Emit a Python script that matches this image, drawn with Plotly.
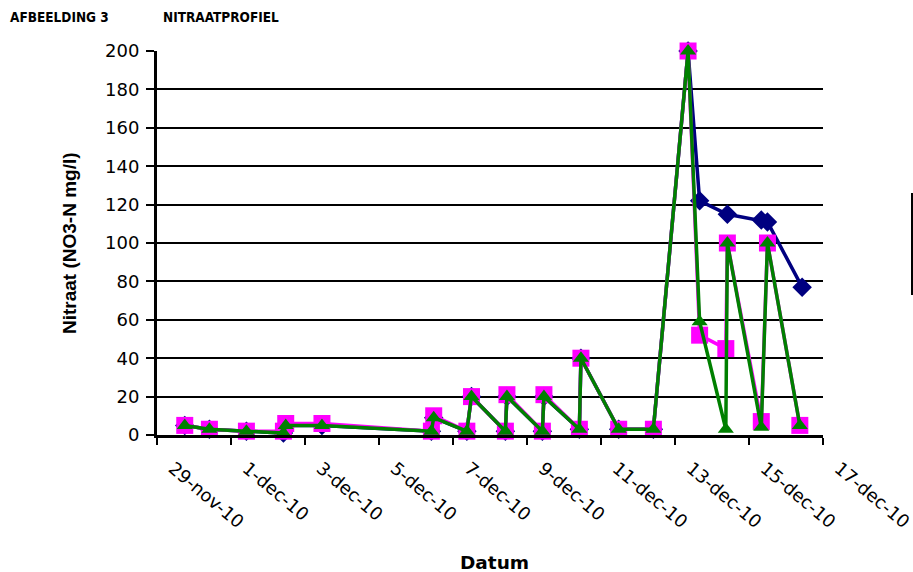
import plotly.graph_objects as go
import pandas as pd

# Sampling moments shared by the magenta and green series
sample_times = [
    "2010-11-29 18:00", "2010-11-30 10:00", "2010-12-01 10:00",
    "2010-12-02 10:00", "2010-12-02 11:30", "2010-12-03 11:00",
    "2010-12-06 10:00", "2010-12-06 11:30", "2010-12-07 09:00",
    "2010-12-07 12:00", "2010-12-08 10:00", "2010-12-08 11:00",
    "2010-12-09 10:00", "2010-12-09 11:00", "2010-12-10 10:00",
    "2010-12-10 11:00", "2010-12-11 11:30", "2010-12-12 10:00",
    "2010-12-13 08:30", "2010-12-13 16:00", "2010-12-14 09:00",
    "2010-12-14 10:00", "2010-12-15 08:00", "2010-12-15 12:00",
    "2010-12-16 09:00",
]
magenta_values = [5, 3, 2, 2, 6, 6, 2, 10, 2, 20, 2, 21, 2, 21, 3, 40, 3, 3,
                  200, 52, 45, 100, 7, 100, 5]
green_values = [5, 3, 2, 1, 5, 5, 2, 9, 2, 20, 2, 20, 2, 20, 3, 40, 3, 3,
                200, 59, 3, 100, 4, 100, 5]

# Navy series: same early samples, its own tail after 13-dec
navy_times = sample_times[:19] + [
    "2010-12-13 16:00", "2010-12-14 10:00", "2010-12-15 08:00",
    "2010-12-15 12:00", "2010-12-16 10:30",
]
navy_values = [5, 3, 2, 1, 5, 5, 2, 9, 2, 20, 2, 20, 2, 20, 3, 40, 3, 3,
               200, 122, 115, 112, 111, 77]

# Axis ticks every two days, labels centred in the day slot
tick_dates = pd.date_range("2010-11-29", "2010-12-17", freq="2D")
tick_labels = ["29-nov-10", "1-dec-10", "3-dec-10", "5-dec-10", "7-dec-10",
               "9-dec-10", "11-dec-10", "13-dec-10", "15-dec-10", "17-dec-10"]
y_ticks = list(range(0, 201, 20))

NAVY = "#000080"
MAGENTA = "#FF00FF"
GREEN = "#008000"

fig = go.Figure()
fig.add_trace(go.Scatter(
    x=pd.to_datetime(navy_times), y=navy_values, mode="lines+markers",
    line=dict(color=NAVY, width=3.5),
    marker=dict(symbol="diamond", size=15, color=NAVY),
    showlegend=False, cliponaxis=False,
))
fig.add_trace(go.Scatter(
    x=pd.to_datetime(sample_times), y=magenta_values, mode="lines+markers",
    line=dict(color=MAGENTA, width=3.5),
    marker=dict(symbol="square", size=17, color=MAGENTA),
    showlegend=False, cliponaxis=False,
))
fig.add_trace(go.Scatter(
    x=pd.to_datetime(sample_times), y=green_values, mode="lines+markers",
    line=dict(color=GREEN, width=3.5),
    marker=dict(symbol="triangle-up", size=14, color=GREEN),
    showlegend=False, cliponaxis=False,
))

PLOT_L, PLOT_R, PLOT_T, PLOT_B = 157, 823, 51, 435
W, H = 913, 572


def px_to_paper(px, py):
    return ((px - PLOT_L) / (PLOT_R - PLOT_L),
            (PLOT_B - py) / (PLOT_B - PLOT_T))


tick_font = dict(family="DejaVu Sans", size=18, color="black")

fig.update_layout(
    width=W, height=H,
    margin=dict(l=PLOT_L, r=W - PLOT_R, t=PLOT_T, b=H - PLOT_B, pad=0,
                autoexpand=False),
    paper_bgcolor="white", plot_bgcolor="white",
    xaxis=dict(
        type="date", automargin=False,
        range=[pd.Timestamp("2010-11-29"), pd.Timestamp("2010-12-17 00:02")],
        tickmode="array", tickvals=list(tick_dates), ticktext=tick_labels,
        tickangle=40, ticklabelshift=16, ticklabelstandoff=6,
        ticklabeloverflow="allow",
        ticks="outside", ticklen=7, tickwidth=2, tickcolor="black",
        showline=True, linecolor="black", linewidth=3,
        showgrid=False, zeroline=False, tickfont=tick_font,
    ),
    yaxis=dict(
        range=[0, 200], tickmode="array", tickvals=y_ticks, automargin=False,
        ticks="outside", ticklen=8, tickwidth=2, tickcolor="black",
        showline=True, linecolor="black", linewidth=3,
        showgrid=True, gridcolor="black", gridwidth=1.5,
        zeroline=False, tickfont=tick_font, ticklabelstandoff=3,
    ),
)

header_font = dict(family="Liberation Sans Narrow, Arial Narrow, DejaVu Sans Condensed",
                   size=13.5, color="black")

# Header above the chart
hx, hy = px_to_paper(8, 17)
fig.add_annotation(text="<b>AFBEELDING 3</b>", x=hx, y=hy, xref="paper", yref="paper",
                   xanchor="left", yanchor="middle", showarrow=False, font=header_font)
hx2, _ = px_to_paper(161, 17)
fig.add_annotation(text="<b>NITRAATPROFIEL</b>", x=hx2, y=hy, xref="paper", yref="paper",
                   xanchor="left", yanchor="middle", showarrow=False, font=header_font)

# Axis titles
tx, ty = px_to_paper(69, 243)
fig.add_annotation(text="<b>Nitraat (NO3-N mg/l)</b>", x=tx, y=ty, xref="paper", yref="paper",
                   textangle=-90, showarrow=False, xanchor="center", yanchor="middle",
                   font=dict(family="Liberation Sans, Arial", size=19, color="black"))
dx, dy = px_to_paper(494, 562)
fig.add_annotation(text="<b>Datum</b>", x=dx, y=dy, xref="paper", yref="paper",
                   showarrow=False, xanchor="center", yanchor="middle",
                   font=dict(family="DejaVu Sans", size=18.5, color="black"))

# Left edge of the legend frame at the right border
lx, ly0 = px_to_paper(912, 295)
_, ly1 = px_to_paper(912, 193)
fig.add_shape(type="line", xref="paper", yref="paper", x0=lx, x1=lx, y0=ly0, y1=ly1,
              line=dict(color="black", width=2))

fig.write_html("out.html")
